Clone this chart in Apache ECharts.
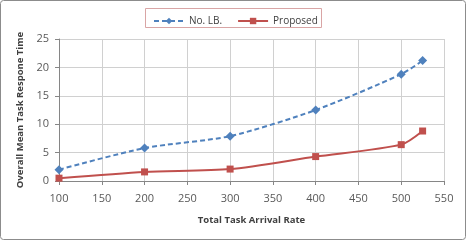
<!DOCTYPE html>
<html><head><meta charset="utf-8">
<script src="https://cdn.jsdelivr.net/npm/echarts@6/dist/echarts.min.js"></script>
<style>html,body{margin:0;padding:0;background:#fff}#c{width:466px;height:240px}</style>
</head><body><div id="c"></div>
<script>
const xValues = [100, 200, 300, 400, 500, 525];
const noLB = [2.0, 5.8, 7.9, 12.5, 18.8, 21.2];
const proposed = [0.5, 1.6, 2.1, 4.3, 6.4, 8.8];
const seriesNames = ['No. LB.', 'Proposed'];
const font = 'Open Sans';
const chart = echarts.init(document.getElementById('c'));
chart.setOption({
  animation: false,
  backgroundColor: '#fff',
  graphic: [{type:'rect', shape:{x:0.5,y:0.5,width:465,height:239,r:3}, style:{fill:'none',stroke:'#8c8c8c',lineWidth:1}, silent:true},
            {type:'rect', shape:{x:145.5,y:8.5,width:176,height:19}, style:{fill:'none',stroke:'#d9a5a5',lineWidth:1}, silent:true}],
  legend: {
    top: 11, left: 148, itemWidth: 30, itemHeight: 8, itemGap: 15,
    textStyle: {fontFamily: font, fontSize: 10, color: '#404040'},
    data: seriesNames
  },
  grid: {left: 59, right: 22, top: 39, bottom: 59},
  xAxis: {
    type: 'value', min: 100, max: 550, interval: 50,
    name: 'Total Task Arrival Rate', nameLocation: 'middle', nameGap: 34,
    nameTextStyle: {fontFamily: font, fontSize: 9.5, fontWeight: 'bold', color: '#404040'},
    axisLine: {lineStyle: {color: '#868686'}},
    axisTick: {show: true, length: 4, lineStyle: {color: '#868686'}},
    axisLabel: {fontFamily: font, fontSize: 11, color: '#595959', margin: 12},
    splitLine: {show: true, lineStyle: {color: '#d0d0d0'}}
  },
  yAxis: {
    type: 'value', min: 0, max: 25, interval: 5,
    name: 'Overall Mean Task Respone Time', nameLocation: 'middle', nameGap: 28, nameRotate: 90,
    nameTextStyle: {fontFamily: font, fontSize: 9.5, fontWeight: 'bold', color: '#404040'},
    axisLine: {show: true, lineStyle: {color: '#868686'}},
    axisTick: {show: true, length: 4, lineStyle: {color: '#868686'}},
    axisLabel: {fontFamily: font, fontSize: 11, color: '#595959', margin: 10},
    splitLine: {show: true, lineStyle: {color: '#d0d0d0'}}
  },
  series: [
    {name: seriesNames[0], type: 'line', smooth: 0.25, data: xValues.map((x,i)=>[x, noLB[i]]),
     symbol: 'diamond', symbolSize: 9, color: '#4F81BD',
     lineStyle: {type: [5,3], width: 2, color: '#4F81BD'}, itemStyle: {color: '#4F81BD'}},
    {name: seriesNames[1], type: 'line', smooth: 0.25, data: xValues.map((x,i)=>[x, proposed[i]]),
     symbol: 'rect', symbolSize: 7, color: '#C0504D',
     lineStyle: {width: 2, color: '#C0504D'}, itemStyle: {color: '#C0504D'}}
  ]
});
</script></body></html>
